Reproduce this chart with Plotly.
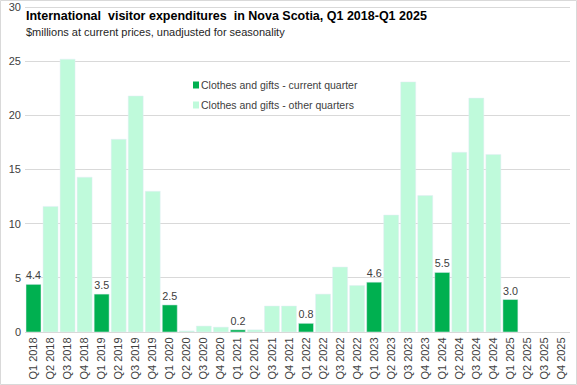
import plotly.graph_objects as go

quarters = [f"Q{q} {y}" for y in range(2018, 2026) for q in range(1, 5)]
current_vals = [4.4, None, None, None, 3.5, None, None, None, 2.5, None, None, None,
                0.2, None, None, None, 0.8, None, None, None, 4.6, None, None, None,
                5.5, None, None, None, 3.0, None, None, None]
other_vals = [None, 11.6, 25.2, 14.3, None, 17.8, 21.8, 13.0, None, 0.1, 0.55, 0.45,
              None, 0.2, 2.4, 2.4, None, 3.5, 6.0, 4.3, None, 10.8, 23.1, 12.6,
              None, 16.6, 21.6, 16.4, None, None, None, None]
series_names = ["Clothes and gifts - current quarter", "Clothes and gifts - other quarters"]
series_colors = ["#00B050", "#BFFADB"]

W, H = 577, 385
ml, mr, mt, mb = 25, 7, 5, 53
pw, ph = W - ml - mr, H - mt - mb
FONT = "Liberation Sans, Arial, sans-serif"

fig = go.Figure()
fig.add_trace(go.Bar(x=quarters, y=current_vals, name=series_names[0],
                     marker_color=series_colors[0],
                     text=[f"{v:.1f}" if v is not None else "" for v in current_vals],
                     textposition="outside", cliponaxis=False,
                     textfont=dict(size=11, color="#404040")))
fig.add_trace(go.Bar(x=quarters, y=other_vals, name=series_names[1],
                     marker_color=series_colors[1]))

def px(x):
    return (x - ml) / pw

def py(y):
    return (H - mb - y) / ph

# custom legend (small square swatches next to text, as in the reference)
legend_shapes, legend_annots = [], []
for i, (nm, col) in enumerate(zip(series_names, series_colors)):
    cy = 85 + 20 * i
    legend_shapes.append(dict(type="rect", xref="paper", yref="paper",
                              x0=px(193), x1=px(199), y0=py(cy + 3.5), y1=py(cy - 3.5),
                              fillcolor=col, line=dict(width=0)))
    legend_annots.append(dict(text=nm, xref="paper", yref="paper", x=px(199), y=py(cy),
                              xanchor="left", yanchor="middle", showarrow=False,
                              font=dict(size=10.5, color="#404040", family=FONT)))

fig.update_layout(
    width=W, height=H, margin=dict(l=ml, r=mr, t=mt, b=mb, autoexpand=False),
    paper_bgcolor="white", plot_bgcolor="white",
    barmode="overlay", bargap=0.12,
    font=dict(family=FONT, size=11, color="#404040"),
    showlegend=False,
    xaxis=dict(type="category", tickangle=-90, showgrid=False, ticks="",
               showline=True, linecolor="#d9d9d9", automargin=False,
               tickfont=dict(size=11, color="#404040")),
    yaxis=dict(range=[0, 30.2], tickvals=[0, 5, 10, 15, 20, 25, 30], showgrid=True,
               gridcolor="#d9d9d9", automargin=False,
               zeroline=False, ticks="", tickfont=dict(size=11, color="#404040"),
               ticklabelstandoff=3),
    annotations=[
        dict(text="<b>International  visitor expenditures  in Nova Scotia, Q1 2018-Q1 2025</b>",
             xref="paper", yref="paper", x=px(24), y=py(7), xanchor="left", yanchor="top",
             showarrow=False, font=dict(size=12.5, color="#000000", family=FONT)),
        dict(text="$millions at current prices, unadjusted for seasonality",
             xref="paper", yref="paper", x=px(24), y=py(24), xanchor="left", yanchor="top",
             showarrow=False, font=dict(size=11, color="#262626", family=FONT)),
    ] + legend_annots,
    shapes=[dict(type="rect", xref="paper", yref="paper",
                 x0=px(0.5), x1=px(W - 0.5), y0=py(H - 0.5), y1=py(0.5),
                 line=dict(color="#d9d9d9", width=1), layer="below")] + legend_shapes,
)

fig.write_html("out.html", config={"displayModeBar": False},
               post_script="document.body.style.margin='0';document.body.style.padding='0';")
